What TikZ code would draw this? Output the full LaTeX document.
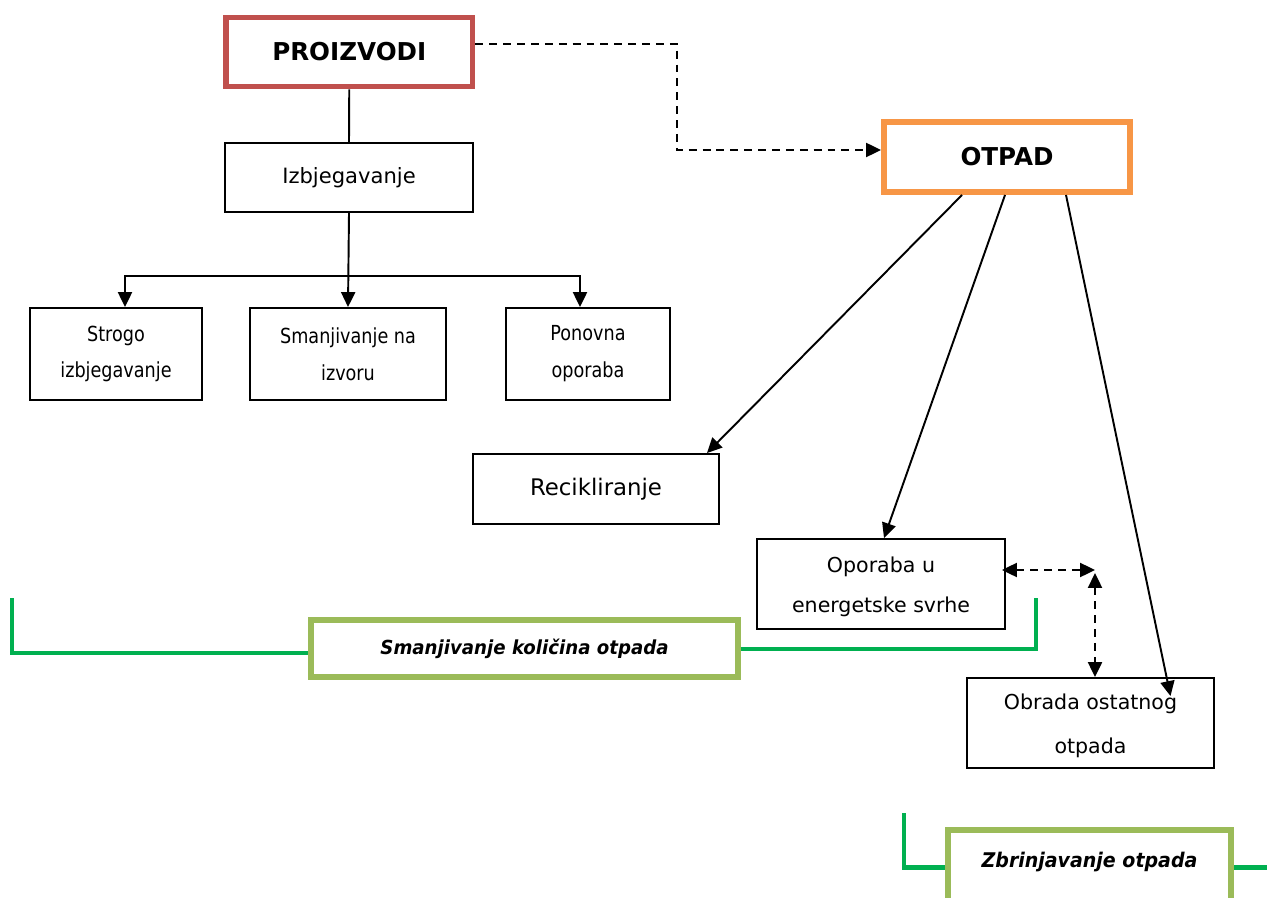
\documentclass[tikz,border=0pt]{standalone}
\usepackage{fontspec}
\setmainfont{DejaVu Sans}
\newfontfamily\narrowf{DejaVu Sans}[FakeStretch=0.85]
\newfontfamily\labf{DejaVu Sans}[FakeStretch=0.94]
\usetikzlibrary{arrows.meta,calc}
\def\pxu{0.02cm}
\definecolor{redb}{HTML}{C0504D}
\definecolor{orab}{HTML}{F79646}
\definecolor{oliveb}{HTML}{9BBB59}
\definecolor{greenl}{HTML}{00B050}
\tikzset{
 box/.style={draw=black, line width=1.1pt, rectangle, inner sep=0pt, align=center},
 hbox/.style={draw=#1, line width=3.4pt, rectangle, inner sep=0pt, align=center},
 sz/.style 2 args={minimum width=#1*\pxu, minimum height=#2*\pxu},
 tipa/.style={-{Triangle[length=8.5pt,width=8pt]}},
 arr/.style={line width=1.1pt, tipa},
 dsh/.style={line width=1.1pt, dash pattern=on 4.5pt off 3.4pt},
 grn/.style={draw=greenl, line width=2.4pt},
 small/.style={font=\narrowf\fontsize{11.8}{21}\selectfont},
 mid/.style={font=\fontsize{11.7}{23}\selectfont},
 head/.style={font=\fontsize{14}{17}\selectfont\bfseries},
 lab/.style={font=\labf\fontsize{11}{13}\selectfont\bfseries\itshape},
}
\begin{document}
\begin{tikzpicture}[x=0.02cm,y=-0.02cm]
\useasboundingbox (0,0) rectangle (1267,898);
\clip (0,0) rectangle (1267,898);
\fill[white] (0,0) rectangle (1267,898);

% top boxes
\node[hbox=redb, sz={246.5}{69}, head] (pro) at (349.25,52) {PROIZVODI};
\node[box, sz={248}{69}, font=\fontsize{12}{14}\selectfont] (izb) at (349,177.5) {Izbjegavanje};
\node[box, sz={172}{92}, small] (str) at (116,354) {Strogo\\izbjegavanje};
\node[box, sz={196}{92}, small] (sma) at (348,354) {Smanjivanje na\\izvoru};
\node[box, sz={164}{92}, small] (pon) at (588,354) {Ponovna\\oporaba};

\node[hbox=orab, sz={246}{70}, head] (otp) at (1007,157) {OTPAD};
\node[box, sz={246}{70}, font=\fontsize{13}{15}\selectfont] (rec) at (596,489) {Recikliranje};

\node[box, sz={248}{90}] (opo) at (881,584) {};
\begin{scope}
\clip (757,539) rectangle (1005,617);
\node[mid, align=center, inner sep=0pt] (opot) at (881,587) {Oporaba u\\energetske svrhe};
\end{scope}

\node[box, sz={247}{90}] (obr) at (1090.5,723) {};
\begin{scope}
\clip (967,678) rectangle (1214,757);
\node[font=\fontsize{11.7}{25}\selectfont, align=center, inner sep=0pt] (obrt) at (1090.5,726) {Obrada ostatnog\\otpada};
\end{scope}

\node[hbox=oliveb, sz={427}{57}, lab] (sko) at (524.5,648.5) {Smanjivanje količina otpada};
\node[hbox=oliveb, sz={283}{75}, font=\labf\fontsize{11.5}{13}\selectfont\bfseries\itshape, text height=8pt, text depth=8pt] (zbr) at (1089.5,867.5) {Zbrinjavanje otpada};

% connectors
\draw[line width=1.1pt] (pro.south) -- (izb.north);
\draw[arr] (izb.south) -- (sma.north);
\coordinate (bar) at (349,276);
\draw[arr] (bar) -| ($(str.north)+(9,0)$);
\draw[arr] (bar) -| ($(pon.north)+(-8,0)$);

\coordinate (dk) at (677,150);
\draw[dsh, tipa] ($(pro.east)+(0,-8)$) -| (dk) -- (otp.west |- dk);

\draw[arr] ($(otp.south)+(-45,0)$) -- ($(rec.north east)+(-13,0)$);
\draw[arr] ($(otp.south)+(-2,0)$) -- ($(opo.north)+(3,0)$);
\draw[arr] ($(otp.south)+(59,0)$) -- ($(obr.north)+(80,19)$);

\coordinate (cor) at (1095,570);
\draw[dsh, {Triangle[length=8.5pt,width=8pt]}-{Triangle[length=8.5pt,width=8pt]}] ($(opo.east |- cor)+(-4,0)$) -- (cor);
\draw[dsh, {Triangle[length=8.5pt,width=8pt]}-{Triangle[length=8.5pt,width=8pt]}] ($(cor)+(0,3)$) -- (obr.north -| cor);

% green brackets
\draw[grn] (12,598) |- ($(sko.west)+(0,4.5)$);
\draw[grn] ($(sko.east)+(0,0.5)$) -| (1036,598);
\draw[grn] (904,813) |- (zbr.west);
\draw[grn] (zbr.east) -- (1267,867.5);
\end{tikzpicture}
\end{document}
